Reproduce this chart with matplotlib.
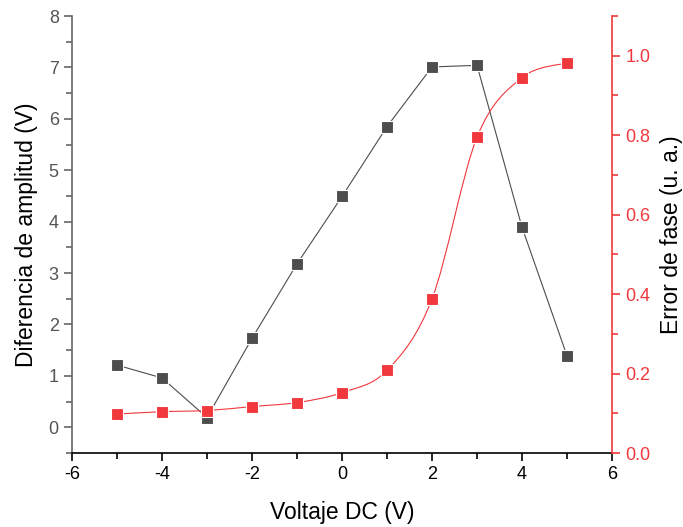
import matplotlib
matplotlib.use("Agg")
import matplotlib.pyplot as plt
from matplotlib.path import Path
from matplotlib.patches import PathPatch
from matplotlib.ticker import MultipleLocator, FormatStrFormatter
import numpy as np

plt.rcParams['font.family'] = ['Liberation Sans', 'DejaVu Sans']
plt.rcParams['axes.unicode_minus'] = False

voltaje = [-5, -4, -3, -2, -1, 0, 1, 2, 3, 4, 5]
amplitud = [1.21, 0.96, 0.19, 1.73, 3.18, 4.49, 5.85, 7.01, 7.04, 3.89, 1.39]
fase = [0.098, 0.104, 0.107, 0.117, 0.127, 0.152, 0.208, 0.388, 0.795, 0.945, 0.982]

gris = '#4d4d4d'
rojo = '#f0383d'


def spline_path(x, y):
    # curva Catmull-Rom convertida a segmentos Bezier cubicos
    x = np.asarray(x, float)
    y = np.asarray(y, float)
    verts = [(x[0], y[0])]
    codes = [Path.MOVETO]
    n = len(x)
    for i in range(n - 1):
        i0, i3 = max(i - 1, 0), min(i + 2, n - 1)
        c1 = (x[i] + (x[i + 1] - x[i0]) / 6, y[i] + (y[i + 1] - y[i0]) / 6)
        c2 = (x[i + 1] - (x[i3] - x[i]) / 6, y[i + 1] - (y[i3] - y[i]) / 6)
        verts += [c1, c2, (x[i + 1], y[i + 1])]
        codes += [Path.CURVE4] * 3
    return Path(verts, codes)


fig = plt.figure(figsize=(6.83, 5.27), dpi=100)
ax = fig.add_axes([0.1054, 0.1404, 0.7907, 0.8292])
ax2 = ax.twinx()

ax.plot(voltaje, amplitud, '-', color=gris, lw=0.8, zorder=2)
ax.plot(voltaje, amplitud, 's', color=gris, ms=8, mec='white', mew=0.8, zorder=3)

ax2.add_patch(PathPatch(spline_path(voltaje, fase), fc='none', ec=rojo, lw=0.8))
ax2.plot(voltaje, fase, 's', color=rojo, ms=8, mec='white', mew=0.8, zorder=3)

ax.set_xlim(-6, 6)
ax.set_ylim(-0.5, 8)
ax2.set_ylim(0, 1.1)

ax.xaxis.set_major_locator(MultipleLocator(2))
ax.xaxis.set_minor_locator(MultipleLocator(1))
ax.yaxis.set_major_locator(MultipleLocator(1))
ax.yaxis.set_minor_locator(MultipleLocator(0.5))
ax2.yaxis.set_major_locator(MultipleLocator(0.2))
ax2.yaxis.set_minor_locator(MultipleLocator(0.1))
ax2.yaxis.set_major_formatter(FormatStrFormatter('%.1f'))

for a in (ax, ax2):
    a.spines['top'].set_visible(False)

ax.spines['right'].set_visible(False)
ax.spines['left'].set_color('#666666')
ax.spines['bottom'].set_color('black')
ax2.spines['left'].set_visible(False)
ax2.spines['bottom'].set_visible(False)
ax2.spines['right'].set_color(rojo)
for s in ('left', 'bottom'):
    ax.spines[s].set_linewidth(1.2)
ax2.spines['right'].set_linewidth(1.2)

ax.tick_params(axis='x', which='major', length=6, width=1.2, colors='black', labelsize=13)
ax.tick_params(axis='x', which='minor', length=4, width=1.2, colors='black')
ax.tick_params(axis='y', which='major', length=6, width=1.2, colors='#666666',
               labelcolor='#555555', labelsize=13)
ax.tick_params(axis='y', which='minor', length=4, width=1.2, colors='#666666')
ax2.tick_params(axis='y', which='major', length=6, width=1.2, colors=rojo, labelsize=13)
ax2.tick_params(axis='y', which='minor', length=4, width=1.2, colors=rojo)

ax.set_xlabel('Voltaje DC (V)', fontsize=16.5, labelpad=13)
ax.set_ylabel('Diferencia de amplitud (V)', fontsize=16.5, labelpad=8)
ax2.set_ylabel('Error de fase (u. a.)', fontsize=16.5, labelpad=7)

fig.savefig('out.png', dpi=100)
